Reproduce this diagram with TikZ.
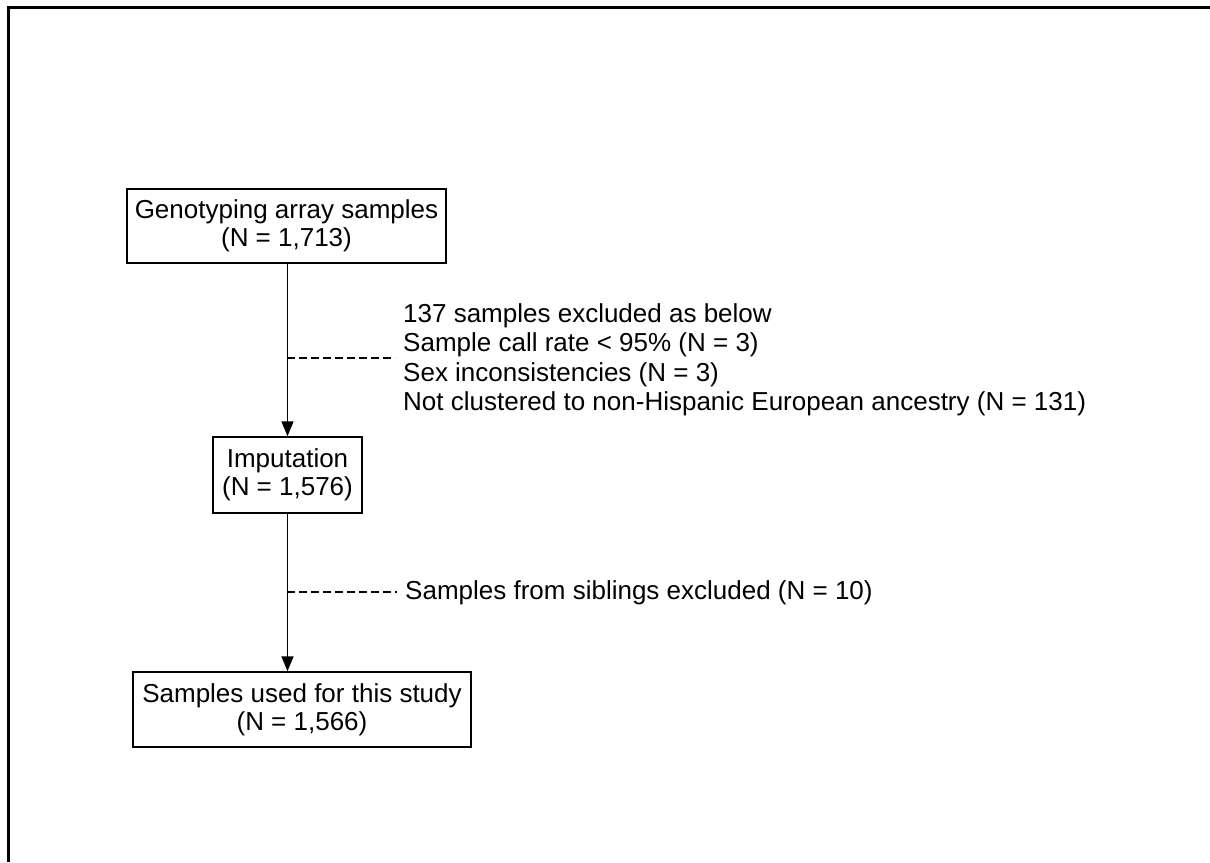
\documentclass[tikz,border=0pt]{standalone}
\usepackage{fontspec}
\setmainfont{Liberation Sans}
\usetikzlibrary{arrows.meta}
\tikzset{
  flowbox/.style={draw,line width=1.4pt,align=center,inner sep=0pt,
    font=\fontsize{26}{28}\selectfont},
  sidenote/.style={anchor=west,align=left,inner sep=0pt,
    font=\fontsize{26}{29.5}\selectfont},
  flowarrow/.style={line width=1.4pt,-{Triangle[width=12pt,length=15pt]}},
  cutline/.style={line width=1.2pt,dash pattern=on 8pt off 4pt}
}
\begin{document}
\begin{tikzpicture}[x=1pt,y=-1pt]
        \useasboundingbox (0,0) rectangle (1210,862);
        \draw[line width=3pt] (8,862) -- (8,7) -- (1210,7);
        \node[flowbox,minimum width=319,minimum height=74] (genot) at (286.5,226)
            {Genotyping array samples\\(N = 1,713)};
        \node[flowbox,minimum width=149,minimum height=76] (imput) at (287.5,475)
            {Imputation\\(N = 1,576)};
        \node[flowbox,minimum width=338,minimum height=75] (final) at (302,709.5)
            {Samples used for this study\\(N = 1,566)};
        \node[sidenote] (excl) at (403,360)
            {137 samples excluded as below\\Sample call rate < 95\% (N = 3)\\Sex inconsistencies (N = 3)\\Not clustered to non-Hispanic European ancestry (N = 131)};
        \node[sidenote] (sibs) at (405,593) {Samples from siblings excluded (N = 10)};
        \draw[flowarrow] (genot.south -| imput.north) -- (imput.north);
        \draw[flowarrow] (imput.south) -- (imput.south |- final.north);
        \coordinate (cut1) at (287,358);
        \coordinate (cut2) at (287,592);
        \draw[cutline] (cut1) -- ([xshift=-8pt]cut1 -| excl.west);
        \draw[cutline] (cut2) -- ([xshift=-8pt]cut2 -| sibs.west);
    \end{tikzpicture}
\end{document}
